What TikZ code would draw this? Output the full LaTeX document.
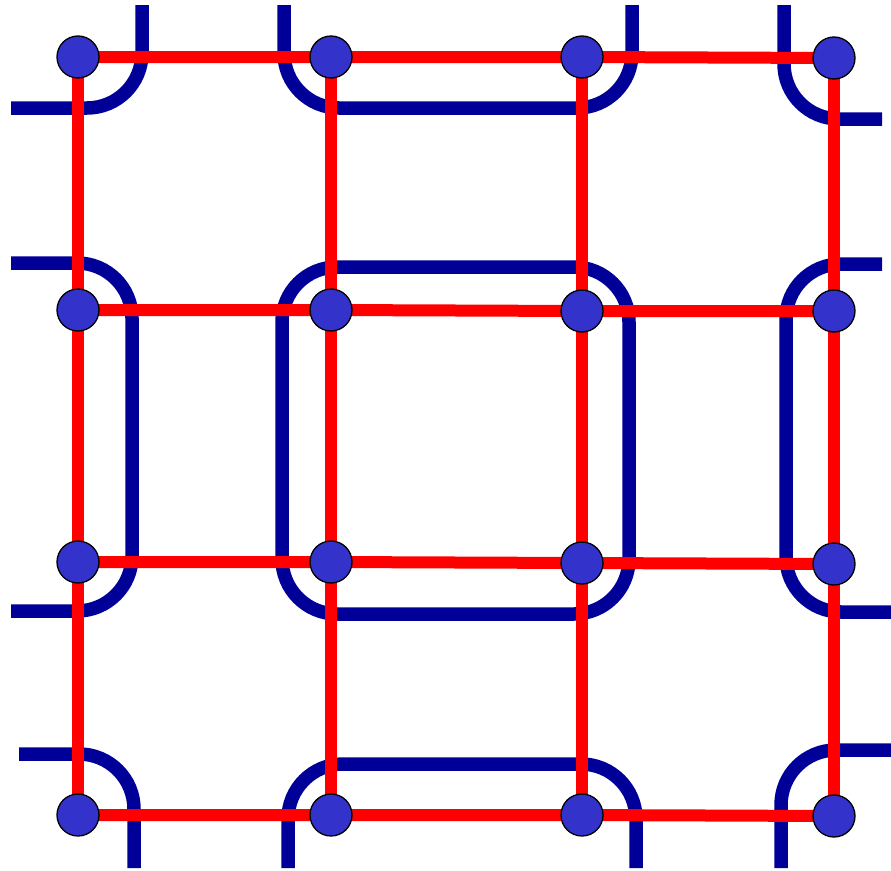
\documentclass[tikz,border=0pt]{standalone}
\usetikzlibrary{backgrounds}
\definecolor{loopblue}{RGB}{0,0,153}
\definecolor{nodeblue}{RGB}{51,51,204}
\begin{document}
\begin{tikzpicture}[x=1pt,y=-1pt,
  site/.style={circle,draw=black,line width=1.3pt,fill=nodeblue,minimum size=42pt,inner sep=0pt},
  bond/.style={red,line width=12pt},
  loopline/.style={loopblue,line width=13.5pt,rounded corners=55pt}]
\useasboundingbox (0,0) rectangle (891,870);
% sites
\node[site] (n11) at (78,57) {};
\node[site] (n12) at (331,57) {};
\node[site] (n13) at (582,57) {};
\node[site] (n14) at (834,58) {};
\node[site] (n21) at (78,310) {};
\node[site] (n22) at (331,310) {};
\node[site] (n23) at (582,311) {};
\node[site] (n24) at (834,311) {};
\node[site] (n31) at (78,562) {};
\node[site] (n32) at (331,562) {};
\node[site] (n33) at (582,563) {};
\node[site] (n34) at (834,564) {};
\node[site] (n41) at (78,815) {};
\node[site] (n42) at (331,815) {};
\node[site] (n43) at (582,815) {};
\node[site] (n44) at (834,816) {};
\begin{pgfonlayer}{background}
% blue loops
\coordinate (a1) at (142,5);  \coordinate (a2) at (11,108);
\draw[loopline] (a1) -- (142,108) -- (a2);
\coordinate (b1) at (284,5);  \coordinate (b2) at (632,5);
\draw[loopline] (b1) -- (284,108) -- (632,108) -- (b2);
\coordinate (c1) at (784,5);  \coordinate (c2) at (882,119);
\draw[loopline] (c1) -- (784,119) -- (c2);
\coordinate (d1) at (11,263); \coordinate (d2) at (11,611);
\draw[loopline] (d1) -- (132,263) -- (132,611) -- (d2);
\draw[loopline] (282,267) -- (629,267) -- (629,614) -- (282,614) -- cycle;
\coordinate (e1) at (882,264); \coordinate (e2) at (891,612);
\draw[loopline] (e1) -- (786,264) -- (786,612) -- (e2);
\coordinate (f1) at (19,754); \coordinate (f2) at (134,868);
\draw[loopline] (f1) -- (134,754) -- (f2);
\coordinate (g1) at (288,868); \coordinate (g2) at (636,868);
\draw[loopline] (g1) -- (288,764) -- (636,764) -- (g2);
\coordinate (h1) at (891,750); \coordinate (h2) at (781,868);
\draw[loopline] (h1) -- (781,750) -- (h2);
% red bonds
\foreach \r in {1,2,3,4}{
  \draw[bond] (n\r1.center) -- (n\r2.center) -- (n\r3.center) -- (n\r4.center);
  \draw[bond] (n1\r.center) -- (n2\r.center) -- (n3\r.center) -- (n4\r.center);
}
\end{pgfonlayer}
\end{tikzpicture}
\end{document}
